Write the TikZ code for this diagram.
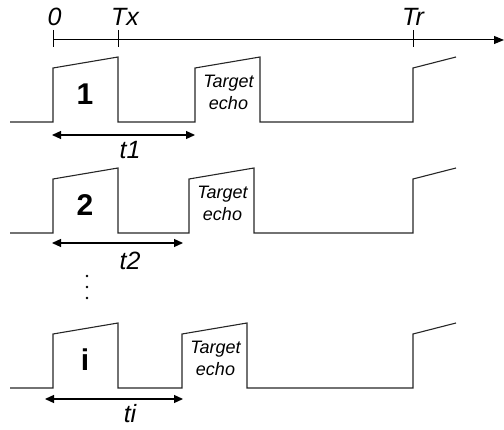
\documentclass[tikz,border=0pt]{standalone}
\usepackage{fontspec}
\setmainfont{Liberation Sans}
\usetikzlibrary{arrows.meta}
\tikzset{
  sig/.style={draw=black!85, line width=1.1pt, line join=miter},
  axisline/.style={draw=black, line width=1pt},
  dimarrow/.style={draw=black, line width=1.2pt, {Triangle[length=9pt,width=8pt]}-{Triangle[length=9pt,width=8pt]}},
  lbl/.style={inner sep=0pt, anchor=base, font=\fontsize{25}{28}\selectfont\itshape},
  num/.style={inner sep=0pt, anchor=base, font=\fontsize{30}{32}\selectfont\bfseries},
  echotxt/.style={inner sep=0pt, anchor=base, font=\fontsize{18}{20}\selectfont\itshape},
}
\begin{document}
\begin{tikzpicture}[x=1pt,y=-1pt]
\useasboundingbox (0,0) rectangle (504,430);
% time axis
\coordinate (a0) at (53,40);
\coordinate (aend) at (504,40);
\draw[axisline,-{Triangle[length=10pt,width=8pt]}] (a0) -- (aend);
\foreach \x/\nm in {53/z,118/tx,413/tr}{
  \draw[axisline] (\x,30) -- (\x,47);
}
\node[lbl] (l0) at (54.5,26) {0};
\node[lbl,anchor=base west] (ltx) at (111,26) {Tx};
\node[lbl,anchor=base west] (ltr) at (402,26) {Tr};
% rows
\foreach \b/\e/\n/\ay/\ax/\bx/\t/\tb in {122/195/1/135/52/195/t1/159, 233/189/2/243/52/183/t2/270, 388/182/i/399/45/183/ti/423}{
  \draw[sig] (10,\b) -- (53,\b) -- (53,{\b-54}) -- (118,{\b-65}) -- (118,\b)
     -- (\e,\b) -- (\e,{\b-54}) -- ({\e+65},{\b-65}) -- ({\e+65},\b)
     -- (413,\b) -- (413,{\b-54}) -- (456,{\b-65});
  \node[num] (num-\n) at (85,{\b-17}) {\n};
  \node[echotxt] (tg-\n) at ({\e+33.5},{\b-34}) {Target};
  \node[echotxt] (ec-\n) at ({\e+33.5},{\b-12}) {echo};
  \coordinate (as-\n) at (\ax,\ay);
  \coordinate (ae-\n) at (\bx,\ay);
  \draw[dimarrow] (as-\n) -- (ae-\n);
  \node[lbl] (t-\n) at (130,\tb) {\t};
}
% vertical dots
\foreach \y in {276,287,298}{
  \fill (87,\y) circle (1.3);
}
\end{tikzpicture}
\end{document}
